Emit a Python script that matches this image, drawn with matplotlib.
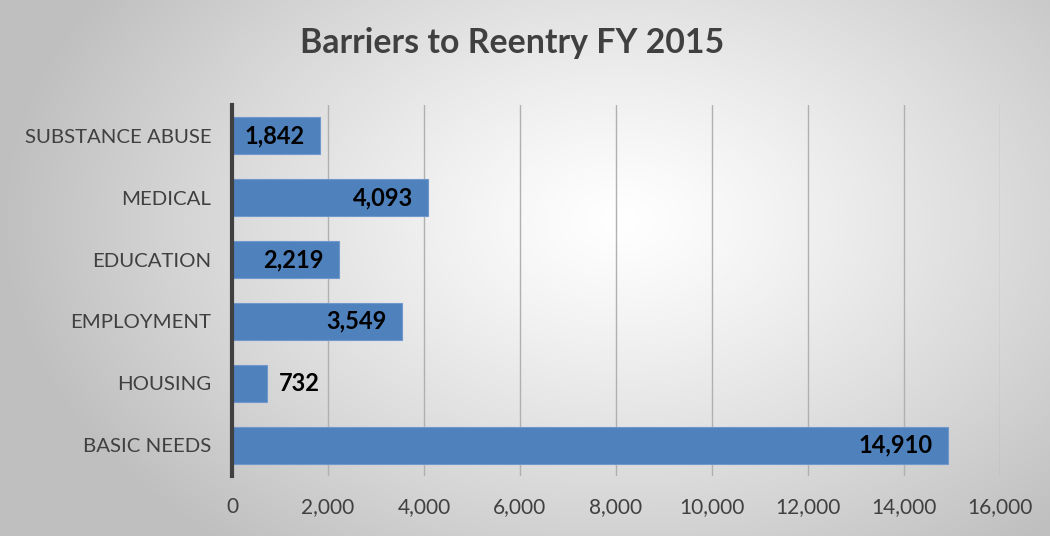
import numpy as np
import matplotlib
matplotlib.use("Agg")
import matplotlib.pyplot as plt

categories = ["BASIC NEEDS", "HOUSING", "EMPLOYMENT", "EDUCATION", "MEDICAL", "SUBSTANCE ABUSE"]
values = [14910, 732, 3549, 2219, 4093, 1842]
xticks = [0, 2000, 4000, 6000, 8000, 10000, 12000, 14000, 16000]
title = "Barriers to Reentry FY 2015"

plt.rcParams['font.family'] = ['Lato', 'DejaVu Sans']

W, H = 1050, 536
fig = plt.figure(figsize=(W / 100, H / 100), dpi=100)

# radial gradient background
bg = fig.add_axes([0, 0, 1, 1])
yy, xx = np.mgrid[0:H, 0:W]
cx, cy = 620, 220
r = np.sqrt(((xx - cx) / 620.0) ** 2 + ((yy - cy) / 420.0) ** 2)
r = np.clip(r, 0, 1)
g = 1.0 - 0.25 * r ** 1.2
img = np.dstack([g, g, g])
bg.imshow(img, aspect='auto', extent=[0, W, H, 0])
bg.set_axis_off()

ax = fig.add_axes([232 / W, 1 - 476 / H, (1000 - 232) / W, (476 - 105) / H])
ax.set_facecolor('none')
y = np.arange(len(categories))
bars = ax.barh(y, values, height=0.6, color='#4f81bd', edgecolor='#6f98cc', linewidth=0.8, zorder=3)
ax.set_xlim(0, 16000)
ax.set_ylim(-0.5, len(categories) - 0.5)
ax.set_yticks(y)
ax.set_yticklabels(categories, fontsize=14.7, color='#404040')
ax.set_xticks(xticks)
ax.set_xticklabels([f"{v:,}" for v in xticks], fontsize=15, color='#404040')
ax.tick_params(axis='y', length=0, pad=15)
ax.tick_params(axis='x', length=0, pad=15)
ax.grid(axis='x', color='#b0b0b0', linewidth=1, zorder=0)
for s in ['top', 'right', 'bottom']:
    ax.spines[s].set_visible(False)
ax.spines['left'].set_color('#404040')
ax.spines['left'].set_linewidth(3)
ax.spines['left'].set_zorder(4)

for yi, v in zip(y, values):
    label = f"{v:,}"
    if v < 1500:
        ax.text(v + 250, yi, label, ha='left', va='center', fontsize=17, fontweight='bold', color='black', zorder=5)
    else:
        ax.text(v - 320, yi, label, ha='right', va='center', fontsize=17, fontweight='bold', color='black', zorder=5)

fig.text(512 / W, 1 - 43 / H, title, ha='center', va='center', fontsize=24.4, fontweight='bold', color='#404040')

fig.savefig("out.png", dpi=100)
